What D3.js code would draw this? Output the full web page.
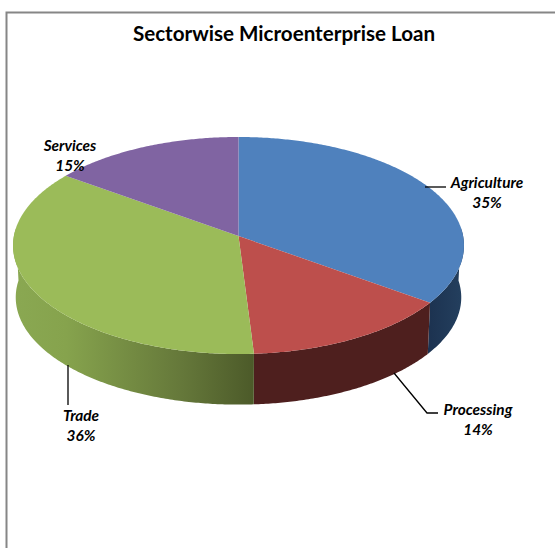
<!DOCTYPE html>
<html>
<head>
<meta charset="utf-8">
<style>
  html, body { margin: 0; padding: 0; background: #fff; }
  svg { display: block; }
  text { font-family: Lato, "Open Sans", sans-serif; fill: #000; }
</style>
<script src="https://cdn.jsdelivr.net/npm/d3@7"></script>
</head>
<body>
<svg id="chart" width="555" height="548"></svg>
<script>
const chartTitle = "Sectorwise Microenterprise Loan";
const categories = ["Agriculture", "Processing", "Trade", "Services"];
const shares = [35, 14, 36, 15];
const topColors = ["#4f81bd", "#bd4f4c", "#9bbb59", "#8064a2"];
const wallStops = [
  [["0%", "#1c3250"], ["100%", "#24405f"]],
  [["0%", "#4e1f1e"], ["100%", "#4e1f1e"]],
  [["0%", "#8aa852"], ["22%", "#86a34d"], ["70%", "#65783a"], ["100%", "#4c5a29"]],
  [["0%", "#5b4675"], ["100%", "#5b4675"]]
];
const labelAnchors = [[487, 183], [478, 410], [81, 416], [70, 146]];
const leaderLines = [
  [[425, 187], [446, 187]],
  [[394, 373], [427, 413], [438, 413]],
  [[68, 365], [68, 405]],
  []
];

const svg = d3.select("#chart");
const defs = svg.append("defs");

// Tilted disc viewed in perspective: far rim is squeezed, near rim is stretched.
const hub = { x: 238.5, y: 236 };
const spreadX = 224.6, spreadY = 107.7, perspective = 0.0876;
const wallDepth = 52, wallShrink = 0.988;

function rim(theta) {
  const side = Math.sin(theta), toward = -Math.cos(theta);
  const w = 1 - perspective * toward;
  return [hub.x + spreadX * side / w, hub.y + spreadY * toward / w];
}
function rimLow(theta) {
  const [x, y] = rim(theta);
  return [hub.x + (x - hub.x) * wallShrink, hub.y + (y - hub.y) * wallShrink + wallDepth];
}
function sweep(a, b) {
  const n = Math.max(2, Math.ceil(Math.abs(b - a) / 0.01));
  return d3.range(n + 1).map(i => a + (b - a) * i / n);
}

const line = d3.line();
const arcs = d3.pie().sort(null).value(d => d)(shares);

// Panel frame, open on the right and at the bottom
svg.append("path")
  .attr("d", line([[6.5, 548], [6.5, 12.5], [555, 12.5]]))
  .attr("fill", "none").attr("stroke", "#868686").attr("stroke-width", 2);

svg.append("text")
  .attr("x", 284).attr("y", 40.5)
  .attr("text-anchor", "middle")
  .attr("font-size", 20.6).attr("font-weight", 700)
  .text(chartTitle);

// Outer walls: only the part of the rim facing the viewer is visible
const wallFrom = 86 * Math.PI / 180, wallTo = 274 * Math.PI / 180;
arcs.forEach((d, i) => {
  const a = Math.max(d.startAngle, wallFrom), b = Math.min(d.endAngle, wallTo);
  if (b <= a) return;
  const upper = sweep(a, b).map(rim);
  const lower = sweep(a, b).map(rimLow).reverse();
  const xs = upper.concat(lower).map(p => p[0]);
  const grad = defs.append("linearGradient")
    .attr("id", "wall" + i)
    .attr("gradientUnits", "userSpaceOnUse")
    .attr("x1", d3.min(xs)).attr("x2", d3.max(xs))
    .attr("y1", 0).attr("y2", 0);
  grad.selectAll("stop").data(wallStops[i]).join("stop")
    .attr("offset", s => s[0]).attr("stop-color", s => s[1]);
  svg.append("path")
    .attr("d", line(upper.concat(lower)) + "Z")
    .attr("fill", `url(#wall${i})`);
});

// Top faces
svg.selectAll("path.face").data(arcs).join("path")
  .attr("class", "face")
  .attr("fill", (d, i) => topColors[i])
  .attr("d", d => line([[hub.x, hub.y]].concat(sweep(d.startAngle, d.endAngle).map(rim))) + "Z");

// Leader lines
svg.selectAll("path.leader").data(leaderLines.filter(l => l.length)).join("path")
  .attr("class", "leader")
  .attr("fill", "none").attr("stroke", "#000").attr("stroke-width", 1.3)
  .attr("d", d => line(d));

// Category and share labels
const labels = svg.selectAll("g.label").data(categories).join("g")
  .attr("class", "label")
  .attr("transform", (d, i) => `translate(${labelAnchors[i][0]},${labelAnchors[i][1]})`)
  .attr("text-anchor", "middle")
  .attr("font-size", 15.4).attr("font-weight", 700).attr("font-style", "italic");
labels.append("text").attr("y", 5).text(d => d);
labels.append("text").attr("y", 25).text((d, i) => shares[i] + "%");
</script>
</body>
</html>
